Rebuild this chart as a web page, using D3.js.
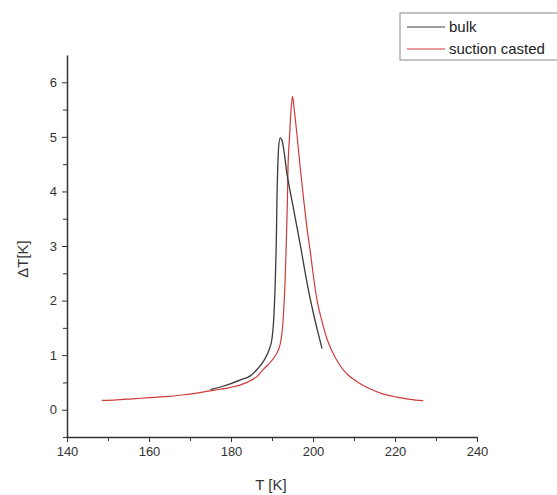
<!DOCTYPE html>
<html>
<head>
<meta charset="utf-8">
<script src="https://cdn.jsdelivr.net/npm/d3@7"></script>
<style>
  body { margin: 0; background: #fff; }
  svg { display: block; font-family: "Liberation Sans", Arial, sans-serif; }
  .axis path, .axis line { stroke: #333; }
  .axis text { fill: #333; font-size: 13px; }
</style>
</head>
<body>
<div id="container"></div>
<script>
// bulk sample
const bulkT = [175, 178, 180, 182.5, 184.7, 186.5, 188, 189.2, 190, 190.4, 190.8, 191.1, 191.2, 191.4, 191.6, 192.0, 192.5, 193.0, 193.6, 194.3, 195.0, 196.0, 197.0, 198.0, 199.0, 200.0, 201.1, 202.2]
const bulkDT = [0.37, 0.43, 0.48, 0.55, 0.62, 0.75, 0.9, 1.08, 1.3, 1.63, 2.37, 3.3, 3.83, 4.42, 4.8, 4.98, 4.92, 4.7, 4.35, 4.05, 3.78, 3.38, 2.98, 2.55, 2.15, 1.8, 1.45, 1.12]

// suction casted sample
const castT = [148.5, 152, 156, 160, 164, 168, 172, 176, 179.9, 182.5, 184.7, 186.5, 188, 189.5, 190.8, 192.0, 192.7, 193.2, 193.5, 193.75, 193.9, 194.3, 194.65, 195.0, 195.5, 196.1, 196.9, 197.8, 198.5, 199.3, 200.1, 201.0, 202.2, 203.4, 204.6, 206.5, 208.5, 211, 214, 217, 220.5, 223.7, 226.9]
const castDT = [0.17, 0.18, 0.2, 0.22, 0.24, 0.27, 0.31, 0.36, 0.41, 0.46, 0.53, 0.62, 0.75, 0.86, 0.99, 1.2, 1.63, 2.37, 3.1, 3.8, 4.42, 5.03, 5.5, 5.74, 5.45, 5.03, 4.42, 3.8, 3.35, 2.92, 2.45, 2.0, 1.62, 1.3, 1.08, 0.82, 0.64, 0.5, 0.38, 0.29, 0.23, 0.19, 0.165]

const xTicks = [140, 160, 180, 200, 220, 240]
const yTicks = [0, 1, 2, 3, 4, 5, 6]
const seriesNames = ['bulk', 'suction casted']
const seriesColors = ['#3a3a3a', '#d03a3a']

const width = 557
const height = 495
const margin = { top: 55, right: 80, bottom: 58, left: 67 }

const svg = d3.select('#container')
    .append('svg')
    .attr('width', width)
    .attr('height', height)

const xScale = d3.scaleLinear()
    .domain([140, 240])
    .range([margin.left, width - margin.right])
const yScale = d3.scaleLinear()
    .domain([-0.5, 6.5])
    .range([height - margin.bottom, margin.top])

// minor ticks first, then major with labels
svg.append('g')
    .attr('class', 'axis')
    .attr('transform', `translate(0, ${height - margin.bottom})`)
    .call(d3.axisBottom(xScale).tickValues(d3.range(150, 240, 20)).tickSize(4).tickFormat(''))
    .call(g => g.select('.domain').remove())

svg.append('g')
    .attr('class', 'axis')
    .attr('transform', `translate(0, ${height - margin.bottom})`)
    .call(d3.axisBottom(xScale).tickValues(xTicks).tickSize(5).tickSizeOuter(0).tickPadding(5))
    .call(g => g.select('.domain').attr('stroke-width', 1.5))

svg.append('g')
    .attr('class', 'axis')
    .attr('transform', `translate(${margin.left}, 0)`)
    .call(d3.axisLeft(yScale).tickValues([-0.5, 0.5, 1.5, 2.5, 3.5, 4.5, 5.5]).tickSize(4).tickFormat(''))
    .call(g => g.select('.domain').remove())

svg.append('g')
    .attr('class', 'axis')
    .attr('transform', `translate(${margin.left}, 0)`)
    .call(d3.axisLeft(yScale).tickValues(yTicks).tickFormat(d3.format('d')).tickSize(5).tickSizeOuter(0).tickPadding(5))
    .call(g => g.select('.domain').attr('stroke-width', 1.5))

// axis titles
svg.append('text')
    .attr('x', 271)
    .attr('y', 490)
    .attr('text-anchor', 'middle')
    .attr('font-size', '15px')
    .attr('fill', '#333')
    .text('T [K]')

svg.append('text')
    .attr('transform', 'translate(28, 259) rotate(-90)')
    .attr('text-anchor', 'middle')
    .attr('font-size', '15px')
    .attr('fill', '#333')
    .text('ΔT[K]')

const line = d3.line()
    .x(d => xScale(d[0]))
    .y(d => yScale(d[1]))
    .curve(d3.curveMonotoneX)

const castData = d3.zip(castT, castDT)
const bulkData = d3.zip(bulkT, bulkDT)

svg.append('path')
    .datum(castData)
    .attr('fill', 'none')
    .attr('stroke', seriesColors[1])
    .attr('stroke-width', 1.2)
    .attr('d', line)

svg.append('path')
    .datum(bulkData)
    .attr('fill', 'none')
    .attr('stroke', seriesColors[0])
    .attr('stroke-width', 1.3)
    .attr('d', line)

// legend (runs off the right edge like the original)
const legend = svg.append('g')
    .attr('transform', 'translate(400, 13)')

legend.append('rect')
    .attr('width', 170)
    .attr('height', 47)
    .attr('fill', '#fff')
    .attr('stroke', '#888')

seriesNames.forEach((name, i) => {
    const y = 14 + i * 22
    legend.append('line')
        .attr('x1', 7).attr('x2', 45)
        .attr('y1', y).attr('y2', y)
        .attr('stroke', seriesColors[i])
        .attr('stroke-width', 1)
    legend.append('text')
        .attr('x', 49)
        .attr('y', y + 5)
        .attr('font-size', '15px')
        .attr('fill', '#222')
        .text(name)
})
</script>
</body>
</html>
